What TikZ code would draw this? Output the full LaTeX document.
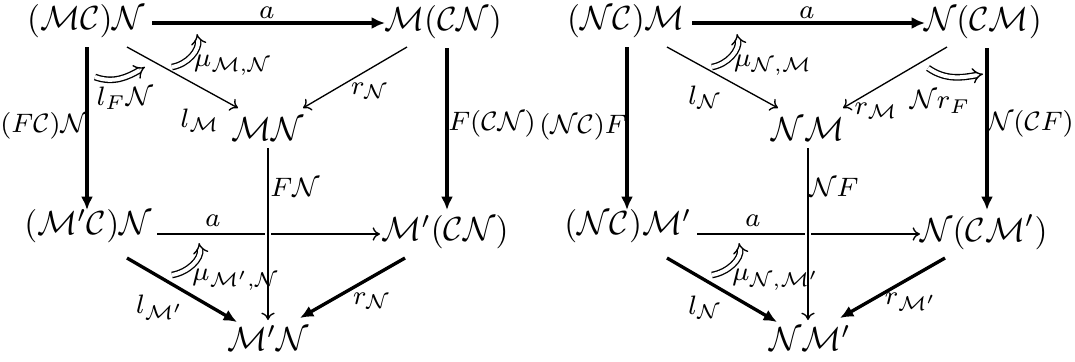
\documentclass[tikz,border=0pt]{standalone}
\usepackage{amsmath}
\usetikzlibrary{arrows.meta,calc}
\begin{document}
\begin{tikzpicture}[x=0.3pt,y=-0.3pt,
  obj/.style={inner sep=0pt,font=\normalsize},
  lab/.style={inner sep=0pt,font=\footnotesize},
  heavy/.style={line width=1pt,-{Latex[length=4pt,width=3.6pt]}},
  light/.style={line width=0.4pt,-{To[length=2.2pt,width=4pt]}},
  twocell/.style={double,double distance=1.2pt,line width=0.4pt,-{Implies}},
  over/.style={preaction={draw=white,line width=2pt}}]
\useasboundingbox (0,0) rectangle (1075,361);

% ---------------- left diagram ----------------
\node[obj] (LA) at (86,21) {$(\mathcal{MC})\mathcal{N}$};
\node[obj] (LB) at (443,22) {$\mathcal{M}(\mathcal{CN})$};
\node[obj] (LC) at (268,129) {$\mathcal{MN}$};
\node[obj] (LD) at (88,226) {$(\mathcal{M}'\mathcal{C})\mathcal{N}$};
\node[obj] (LE) at (445,232) {$\mathcal{M}'(\mathcal{CN})$};
\node[obj] (LF) at (268,338) {$\mathcal{M}'\mathcal{N}$};

\draw[heavy] ($(LA)+(66,2)$) -- ($(LB)+(-58,1)$);
\draw[heavy] ($(LA)+(1,26)$) -- ($(LD)+(-1,-16)$);
\draw[heavy] ($(LB)+(4,26)$) -- ($(LE)+(2,-22)$);
\draw[light] ($(LA)+(41,26)$) -- ($(LC)+(-30,-21)$);
\draw[light] ($(LB)+(-36,25)$) -- ($(LC)+(35,-21)$);
\draw[light] ($(LD)+(69,8)$) -- ($(LE)+(-65,2)$);
\draw[light,over] ($(LC)+(0,19)$) -- ($(LF)+(0,-18)$);
\draw[heavy] ($(LD)+(39,32)$) -- ($(LF)+(-31,-16)$);
\draw[heavy] ($(LE)+(-40,26)$) -- ($(LF)+(32,-20)$);

\coordinate (L1s) at (172,67); \coordinate (L1e) at (197,34);
\coordinate (L2s) at (95,77);  \coordinate (L2e) at (145,67);
\coordinate (L3s) at (172,275); \coordinate (L3e) at (199,243);
\draw[twocell] (L1s) to[out=10,in=-80] (L1e);
\draw[twocell] (L2s) to[out=-20,in=-150] (L2e);
\draw[twocell] (L3s) to[out=10,in=-80] (L3e);

\node[lab] (La1) at (267,13) {$a$};
\node[lab] (La2) at (213,221) {$a$};
\node[lab] (LFC) at (44,126) {$(F\mathcal{C})\mathcal{N}$};
\node[lab] (LFCN) at (492,124) {$F(\mathcal{CN})$};
\node[lab] (LlM) at (200,120) {$l_{\mathcal{M}}$};
\node[lab] (LrN) at (370,91) {$r_{\mathcal{N}}$};
\node[lab] (LFN) at (295,187) {$F\mathcal{N}$};
\node[lab] (LlMp) at (160,307) {$l_{\mathcal{M}'}$};
\node[lab] (LrN2) at (372,301) {$r_{\mathcal{N}}$};
\node[lab] (Lmu1) at (233,65) {$\mu_{\mathcal{M},\mathcal{N}}$};
\node[lab] (Lmu2) at (236,280) {$\mu_{\mathcal{M}',\mathcal{N}}$};
\node[lab] (LlF) at (125,98) {$l_F\mathcal{N}$};

% ---------------- right diagram ----------------
\node[obj] (RA) at (626,21) {$(\mathcal{NC})\mathcal{M}$};
\node[obj] (RB) at (983,22) {$\mathcal{N}(\mathcal{CM})$};
\node[obj] (RC) at (808,129) {$\mathcal{NM}$};
\node[obj] (RD) at (628,226) {$(\mathcal{NC})\mathcal{M}'$};
\node[obj] (RE) at (984,232) {$\mathcal{N}(\mathcal{CM}')$};
\node[obj] (RF) at (810,338) {$\mathcal{N}\mathcal{M}'$};

\draw[heavy] ($(RA)+(66,2)$) -- ($(RB)+(-58,1)$);
\draw[heavy] ($(RA)+(1,26)$) -- ($(RD)+(-1,-16)$);
\draw[heavy] ($(RB)+(4,26)$) -- ($(RE)+(3,-22)$);
\draw[light] ($(RA)+(41,26)$) -- ($(RC)+(-30,-21)$);
\draw[light] ($(RB)+(-36,25)$) -- ($(RC)+(35,-21)$);
\draw[light] ($(RD)+(69,8)$) -- ($(RE)+(-64,2)$);
\draw[light,over] ($(RC)+(0,19)$) -- ($(RF)+(-2,-18)$);
\draw[heavy] ($(RD)+(39,32)$) -- ($(RF)+(-33,-16)$);
\draw[heavy] ($(RE)+(-39,26)$) -- ($(RF)+(30,-20)$);

\coordinate (R1s) at (712,67); \coordinate (R1e) at (737,34);
\coordinate (R2s) at (928,68); \coordinate (R2e) at (983,74);
\coordinate (R3s) at (712,275); \coordinate (R3e) at (739,243);
\draw[twocell] (R1s) to[out=10,in=-80] (R1e);
\draw[twocell] (R2s) to[out=-35,in=-170] (R2e);
\draw[twocell] (R3s) to[out=10,in=-80] (R3e);

\node[lab] (Ra1) at (807,13) {$a$};
\node[lab] (Ra2) at (753,221) {$a$};
\node[lab] (RNCF) at (583,127) {$(\mathcal{NC})F$};
\node[lab] (RNCFr) at (1030,124) {$\mathcal{N}(\mathcal{C}F)$};
\node[lab] (RlN) at (705,97) {$l_{\mathcal{N}}$};
\node[lab] (RrM) at (876,111) {$r_{\mathcal{M}}$};
\node[lab] (RNF) at (834,187) {$\mathcal{N}F$};
\node[lab] (RlN2) at (705,307) {$l_{\mathcal{N}}$};
\node[lab] (RrMp) at (911,302) {$r_{\mathcal{M}'}$};
\node[lab] (Rmu1) at (773,65) {$\mu_{\mathcal{N},\mathcal{M}}$};
\node[lab] (Rmu2) at (776,280) {$\mu_{\mathcal{N},\mathcal{M}'}$};
\node[lab] (RrF) at (940,102) {$\mathcal{N}r_F$};
\end{tikzpicture}
\end{document}
